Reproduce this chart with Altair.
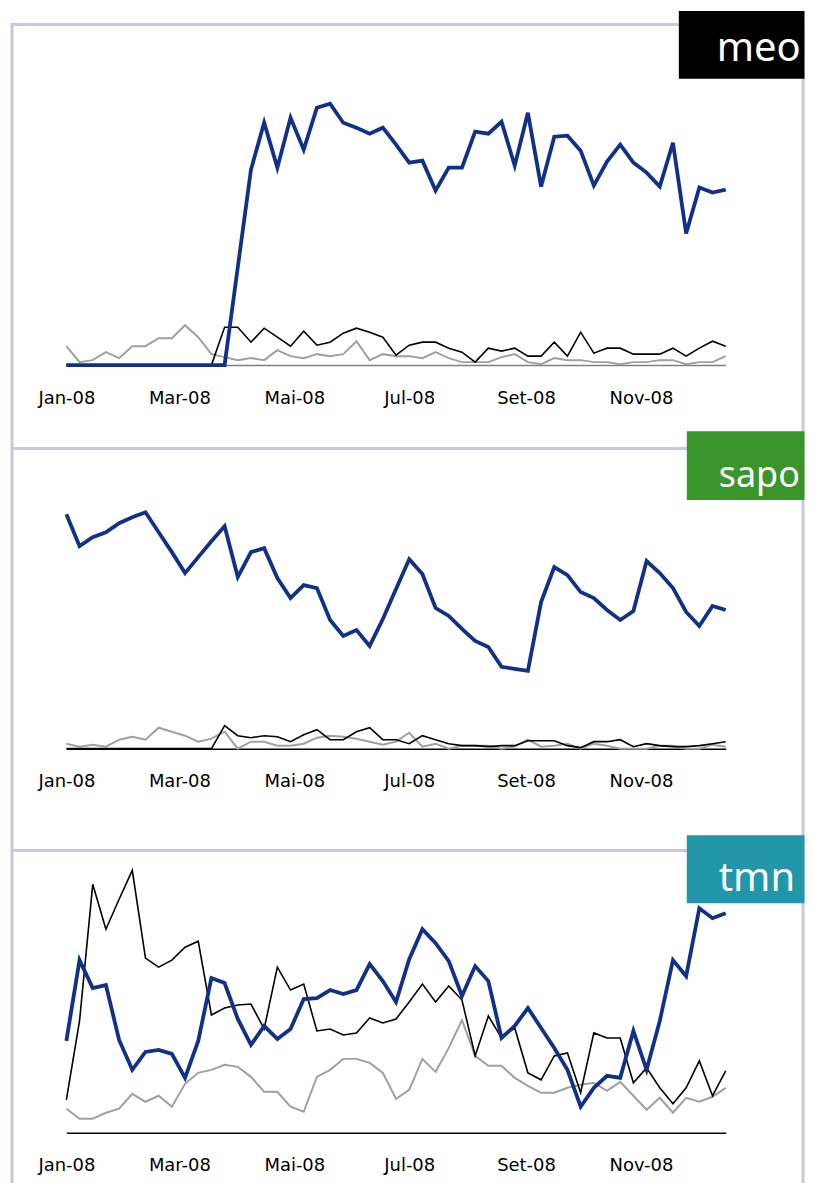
import altair as alt
import pandas as pd

N = 51
start = pd.Timestamp("2008-01-01")
dates = [(start + pd.Timedelta(days=7 * i)).strftime("%Y-%m-%d") for i in range(N)]

MONTHS_PT = ["Jan", "Fev", "Mar", "Abr", "Mai", "Jun", "Jul", "Ago", "Set", "Out", "Nov", "Dez"]
TICK_MONTHS = [1, 3, 5, 7, 9, 11]

# ---- meo ----
meo_blue = [0] * 13 + [98, 196, 243, 198, 248, 216, 258, 262, 243, 238,
                       232, 238, 221, 203, 205, 175, 198, 198, 234, 232,
                       244, 200, 253, 179, 229, 230, 215, 180, 204, 221,
                       203, 193, 179, 223, 132, 178, 173, 176]
meo_black = [0] * 12 + [38, 38, 23, 37, 28, 19, 34, 20, 23, 32,
                        37, 33, 28, 10, 20, 23, 23, 17, 13, 3,
                        17, 14, 17, 9, 9, 23, 9, 33, 12, 17,
                        17, 11, 11, 11, 17, 9, 17, 24, 19]
meo_gray = [19, 3, 5, 13, 7, 19, 19, 27, 27, 40,
            28, 11, 8, 5, 7, 5, 15, 9, 7, 11,
            9, 11, 24, 5, 11, 9, 9, 7, 13, 7,
            3, 3, 3, 8, 11, 3, 1, 7, 5, 5,
            3, 3, 1, 3, 3, 5, 5, 1, 3, 3, 9]

# ---- sapo ----
sapo_blue = [235, 203, 212, 217, 226, 232, 237, 217, 197, 176,
             192, 208, 223, 172, 197, 201, 171, 151, 164, 161,
             129, 113, 119, 103, 130, 160, 190, 175, 141, 133,
             120, 108, 102, 82, 80, 78, 147, 182, 174, 157,
             151, 139, 129, 138, 188, 176, 161, 137, 123, 143, 139]
sapo_black = [0] * 12 + [23, 13, 11, 13, 12, 7, 14, 19, 9, 9,
                         17, 21, 9, 9, 5, 13, 9, 5, 3, 3,
                         2, 3, 3, 8, 8, 8, 3, 1, 7, 7,
                         9, 2, 5, 3, 2, 2, 3, 5, 7]
sapo_gray = [5, 2, 4, 2, 9, 12, 9, 21, 17, 13,
             7, 10, 17, 0, 7, 7, 3, 3, 5, 11,
             13, 12, 10, 7, 4, 7, 16, 2, 5, 0,
             3, 3, 3, 0, 2, 9, 2, 3, 5, 0,
             5, 3, 0, 0, 0, 3, 3, 0, 0, 4, 2]

# ---- tmn ----
tmn_blue = [92, 173, 145, 148, 93, 63, 81, 83, 79, 55,
            92, 155, 150, 114, 88, 107, 94, 104, 134, 135,
            143, 139, 143, 169, 152, 131, 174, 204, 190, 172,
            137, 167, 152, 95, 107, 125, 105, 85, 63, 26,
            45, 57, 55, 102, 63, 112, 173, 157, 225, 215, 220]
tmn_black = [33, 112, 249, 204, 234, 263, 175, 166, 173, 186,
             192, 118, 125, 128, 129, 104, 166, 143, 149, 102,
             104, 98, 100, 115, 110, 114, 131, 149, 131, 147,
             133, 77, 117, 95, 105, 60, 53, 77, 80, 40,
             100, 95, 95, 50, 65, 45, 29, 45, 72, 37, 62]
tmn_gray = [24, 14, 14, 20, 24, 39, 31, 37, 26, 49,
            60, 63, 68, 66, 56, 41, 41, 26, 21, 56,
            63, 74, 74, 70, 60, 34, 43, 74, 61, 85,
            113, 77, 67, 67, 55, 47, 40, 40, 45, 48,
            50, 42, 51, 37, 23, 35, 20, 35, 31, 36, 45]

BLUE = "#11308a"
BLACK = "#000000"
GRAY = "#a0a0a0"
BORDER = "#c5c8e0"
VIEW_W = 793

month_arr = "[" + ",".join("'%s'" % m for m in MONTHS_PT) + "]"
label_expr = month_arr + "[utcmonth(datum.value)] + '-' + utcFormat(datum.value, '%y')"


def panel(name, blue, black, gray, box_color, height, base, box, txt, axis_color, font_size):
    df = pd.DataFrame({
        "data": dates * 3,
        "serie": ["A"] * N + ["B"] * N + ["C"] * N,
        "valor": blue + black + gray,
    })
    x = alt.X(
        "data:T",
        scale=alt.Scale(type="utc",
                        domain=[alt.DateTime(year=2008, month=1, date=1, utc=True),
                                alt.DateTime(year=2008, month=12, date=16, utc=True)],
                        range=[54.5, 715.5]),
        axis=alt.Axis(values=[alt.DateTime(year=2008, month=m, date=1, utc=True) for m in TICK_MONTHS],
                      labelExpr=label_expr, title=None, grid=False, ticks=False,
                      domain=True, domainColor=axis_color, domainWidth=1.5,
                      labelFont="DejaVu Sans", labelFontSize=18, labelColor="#000000",
                      labelAlign="center", labelBaseline="middle", labelPadding=33,
                      labelFlush=False, labelOverlap=False, offset=-(height - base)),
    )
    y = alt.Y("valor:Q", scale=alt.Scale(domain=[0, base], range=[base, 0]), axis=None)
    base_chart = alt.Chart(df).encode(x=x, y=y)
    l_gray = base_chart.transform_filter(alt.datum.serie == "C").mark_line(color=GRAY, strokeWidth=2)
    l_black = base_chart.transform_filter(alt.datum.serie == "B").mark_line(color=BLACK, strokeWidth=1.6)
    l_blue = base_chart.transform_filter(alt.datum.serie == "A").mark_line(color=BLUE, strokeWidth=3.8)
    logo_data = alt.Data(values=[{"logo": name}])
    rect = alt.Chart(logo_data).mark_rect(color=box_color).encode(
        x=alt.value(box[0]), x2=alt.value(box[1]), y=alt.value(box[2]), y2=alt.value(box[3]))
    text = alt.Chart(logo_data).mark_text(
        align="left", baseline="alphabetic", font="Noto Sans", fontSize=font_size, color="white"
    ).encode(x=alt.value(txt[0]), y=alt.value(txt[1]), text="logo:N")
    return alt.layer(l_gray, l_black, l_blue, rect, text).properties(width=VIEW_W, height=height)


p1 = panel("meo", meo_blue, meo_black, meo_gray, "#000000", 425, 341.5,
           (668.5, 794.5, -13.5, 54.5), (706.5, 37), "#808080", 40)
p2 = panel("sapo", sapo_blue, sapo_black, sapo_gray, "#3a962b", 403, 301,
           (676.5, 794.5, -17.3, 51.7), (708.5, 39), "#000000", 36)
p3 = panel("tmn", tmn_blue, tmn_black, tmn_gray, "#2297a9", 360, 283,
           (676.5, 794.5, -15.3, 53), (708.5, 40.7), "#000000", 40)

chart = alt.vconcat(p1, p2, p3, spacing=0, bounds="flush").properties(
    padding={"left": 2, "top": 0, "right": 0, "bottom": 0}
).configure_view(stroke=BORDER, strokeWidth=3)

chart.save("out.html", embed_options={"renderer": "svg", "actions": False})
